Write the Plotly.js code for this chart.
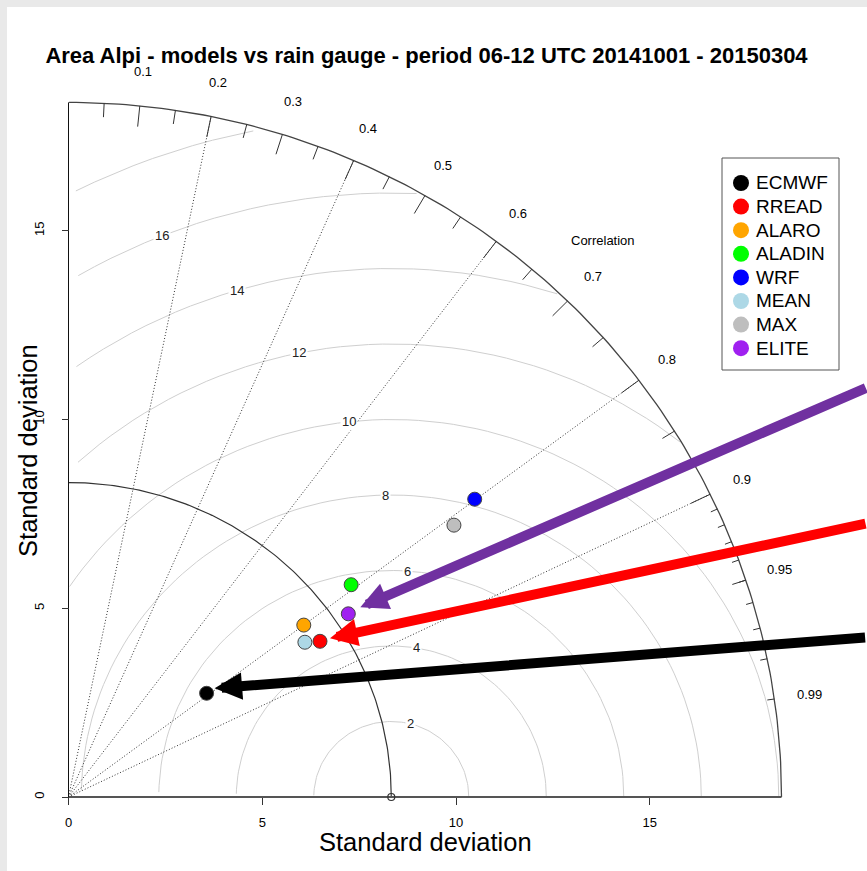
<!DOCTYPE html>
<html><head><meta charset="utf-8">
<script src="https://cdn.plot.ly/plotly-3.0.1.min.js"></script>
<style>
html,body{margin:0;padding:0;background:#e9e9e9;width:867px;height:871px;overflow:hidden;}
#chart{position:absolute;left:7px;top:7px;width:860px;height:864px;background:#fff;}
</style></head><body><div id="chart"></div>
<script>
// ---- data ----
const models = ['ECMWF','RREAD','ALARO','ALADIN','WRF','MEAN','MAX','ELITE'];
const modelSD = [4.50, 7.69, 7.59, 9.21, 13.12, 7.35, 12.28, 8.70];
const modelCor = [0.792, 0.844, 0.800, 0.792, 0.799, 0.830, 0.810, 0.830];
const modelColors = ['#000000','#FF0000','#FFA500','#00FF00','#0000FF','#ADD8E6','#BEBEBE','#A020F0'];
const refSD = 8.33;
const maxSD = 18.4;
const rmsLevels = [2,4,6,8,10,12,14,16,18];
const corLabels = [0.1,0.2,0.3,0.4,0.5,0.6,0.7,0.8,0.9,0.95,0.99];
const corLines = [0.2,0.4,0.6,0.8,0.9];
const bigTicks = [0.1,0.2,0.3,0.4,0.5,0.6,0.7,0.8,0.9];
const medTicks = [0.05,0.15,0.25,0.35,0.45,0.55,0.65,0.75,0.85,0.95];
const smlTicks = [0.91,0.92,0.93,0.94,0.95,0.96,0.97,0.98,0.99];
const axisTicks = [0,5,10,15];
const arrowTargets = ['ELITE','RREAD','ECMWF'];
const arrowColors = ['#7030A0','#FF0000','#000000'];
const titleText = 'Area Alpi - models vs rain gauge - period 06-12 UTC 20141001 - 20150304';

const FONT = 'Liberation Sans, Arial, Helvetica, sans-serif';
const traces = [];
const annotations = [];
const noHover = {hoverinfo:'skip', showlegend:false};

// RMS difference arcs around the reference point
const thetas = [];
for (let i = 0; i <= Math.floor(Math.PI/0.03); i++) thetas.push(i*0.03);
const labelIdx = [];
for (let k = 0; k < rmsLevels.length; k++) labelIdx.push(Math.floor(45 + k*(70-45)/(rmsLevels.length-1)) - 1);
const gx = [], gy = [];
rmsLevels.forEach((g, k) => {
  const xc = thetas.map(t => Math.cos(t)*g + refSD);
  const yc = thetas.map(t => Math.sin(t)*g);
  let end = xc.findIndex(v => v < 0); if (end < 0) end = xc.length;
  let start = 0;
  xc.forEach((v,i) => { if (v*v + yc[i]*yc[i] > maxSD*maxSD) start = i+1; });
  for (let i = start; i < end; i++) { gx.push(xc[i]); gy.push(yc[i]); }
  gx.push(null); gy.push(null);
  const li = labelIdx[k];
  if (xc[li] >= 0) {
    annotations.push({x: xc[li], y: yc[li], xref:'x', yref:'y', text: String(g), showarrow:false,
      bgcolor:'#ffffff', borderpad:1, font:{family:FONT, size:13, color:'#222'}});
  }
});
traces.push(Object.assign({x:gx, y:gy, mode:'lines', line:{color:'#cfcfcf', width:1}}, noHover));

// dotted correlation lines
const dx = [], dy = [];
corLines.forEach(c => { dx.push(0, maxSD*c, null); dy.push(0, maxSD*Math.sqrt(1-c*c), null); });
traces.push(Object.assign({x:dx, y:dy, mode:'lines', line:{color:'#333', width:1, dash:'1px,2px'}}, noHover));

// reference sd arc and outer arc
function arc(r) {
  const ax = [], ay = [];
  for (let i = 0; i <= 157; i++) { const t = Math.min(i*0.01, Math.PI/2); ax.push(Math.cos(t)*r); ay.push(Math.sin(t)*r); }
  return {ax, ay};
}
const ra = arc(refSD), oa = arc(maxSD);
traces.push(Object.assign({x:ra.ax, y:ra.ay, mode:'lines', line:{color:'#333', width:1.2}}, noHover));
traces.push(Object.assign({x:oa.ax, y:oa.ay, mode:'lines', line:{color:'#444', width:1.3}}, noHover));

// correlation ticks on the outer arc
const tx = [], ty = [];
function addTicks(list, frac) {
  list.forEach(c => { const s = Math.sqrt(1-c*c);
    tx.push(maxSD*c, frac*maxSD*c, null); ty.push(maxSD*s, frac*maxSD*s, null); });
}
addTicks(bigTicks, 0.97); addTicks(medTicks, 0.98); addTicks(smlTicks, 0.99);
traces.push(Object.assign({x:tx, y:ty, mode:'lines', line:{color:'#333', width:1}}, noHover));

// axis lines
traces.push(Object.assign({x:[0, maxSD], y:[0, 0], mode:'lines', line:{color:'#555', width:2}}, noHover));
traces.push(Object.assign({x:[0, 0], y:[0, maxSD], mode:'lines', line:{color:'#111', width:1}}, noHover));

// reference point
traces.push(Object.assign({x:[refSD], y:[0], mode:'markers', cliponaxis:false,
  marker:{symbol:'circle-open', size:7, color:'#333', line:{width:1.2}}}, noHover));

// model points
const mx = models.map((m,i) => modelSD[i]*modelCor[i]);
const my = models.map((m,i) => modelSD[i]*Math.sqrt(1-modelCor[i]*modelCor[i]));
traces.push({x:mx, y:my, text:models, mode:'markers', cliponaxis:false, showlegend:false,
  marker:{size:14, color:modelColors, line:{color:'#444', width:1}},
  hovertemplate:'%{text}<extra></extra>'});

// legend (own small axes)
traces.push({x:models.map(()=>0), y:models.map((m,i)=>i), xaxis:'x2', yaxis:'y2', mode:'markers',
  marker:{size:16, color:modelColors}, hoverinfo:'skip', showlegend:false, cliponaxis:false});
models.forEach((m,i) => annotations.push({x:13, y:i, xref:'x2', yref:'y2', text:m, showarrow:false,
  xanchor:'left', yanchor:'middle', font:{family:FONT, size:19, color:'#000'}}));

// correlation labels
corLabels.forEach(c => annotations.push({x:1.05*maxSD*c, y:1.05*maxSD*Math.sqrt(1-c*c), xref:'x', yref:'y',
  text:String(c), showarrow:false, font:{family:FONT, size:13, color:'#000'}}));
annotations.push({x:13.79, y:14.75, xref:'x', yref:'y', text:'Correlation', showarrow:false,
  font:{family:FONT, size:13, color:'#000'}});

// axis titles
annotations.push({x:0.4866, y:0.0336, xref:'paper', yref:'paper', text:'Standard deviation', showarrow:false,
  xanchor:'center', yanchor:'middle', font:{family:FONT, size:25.5, color:'#000'}});
annotations.push({x:0.0244, y:0.4873, xref:'paper', yref:'paper', text:'Standard deviation', showarrow:false,
  textangle:-90, xanchor:'center', yanchor:'middle', font:{family:FONT, size:25.5, color:'#000'}});

// arrows: [xshift, yshift, ax, ay] in pixels
const arrowShift = [[12, 6.5, 507, -220], [10, 3, 537, -115], [8, 5, 652, -51]];
arrowTargets.forEach((t, k) => {
  const i = models.indexOf(t);
  const s = arrowShift[k];
  annotations.push({x:mx[i], y:my[i], xref:'x', yref:'y', text:'', showarrow:true, arrowhead:2,
    arrowsize:0.55, arrowwidth:10, arrowcolor:arrowColors[k], standoff:0,
    xshift:s[0], yshift:s[1], ax:s[2], ay:s[3]});
});

const tickFont = {family:FONT, size:13, color:'#000'};
const layout = {
  width:860, height:864, margin:{l:0, r:0, t:0, b:0},
  paper_bgcolor:'#ffffff', plot_bgcolor:'rgba(0,0,0,0)', showlegend:false,
  title:{text:titleText, font:{family:FONT, size:22, weight:700, color:'#000'},
    xref:'container', yref:'container', x:0.4878, y:0.9444, xanchor:'center', yanchor:'middle'},
  xaxis:{domain:[0.0625, 0.95465], range:[-0.2, 19.6], anchor:'free', position:0.085648,
    tickvals:axisTicks, ticktext:axisTicks.map(String), ticks:'outside', ticklen:7, tickcolor:'#333',
    showgrid:false, zeroline:false, showline:false, tickfont:tickFont, ticklabelstandoff:6, fixedrange:true},
  yaxis:{domain:[0.07691, 0.94201], range:[-0.2, 19.6], anchor:'free', position:0.071512,
    tickvals:axisTicks, ticktext:axisTicks.map(String), ticks:'outside', ticklen:7, tickcolor:'#333',
    showgrid:false, zeroline:false, showline:false, tickfont:tickFont, tickangle:-90, ticklabelstandoff:12, fixedrange:true},
  xaxis2:{domain:[715/860, 832/860], range:[-19, 98], anchor:'y2', visible:false, fixedrange:true},
  yaxis2:{domain:[1-363/864, 1-151/864], range:[7.924, -1.059], anchor:'x2', visible:false, fixedrange:true},
  shapes:[{type:'rect', xref:'paper', yref:'paper', x0:715/860, x1:832/860, y0:1-363/864, y1:1-151/864,
    line:{color:'#555', width:1}, fillcolor:'rgba(0,0,0,0)', layer:'below'}],
  annotations:annotations
};
Plotly.newPlot('chart', traces, layout, {displayModeBar:false, staticPlot:true});
</script></body></html>
